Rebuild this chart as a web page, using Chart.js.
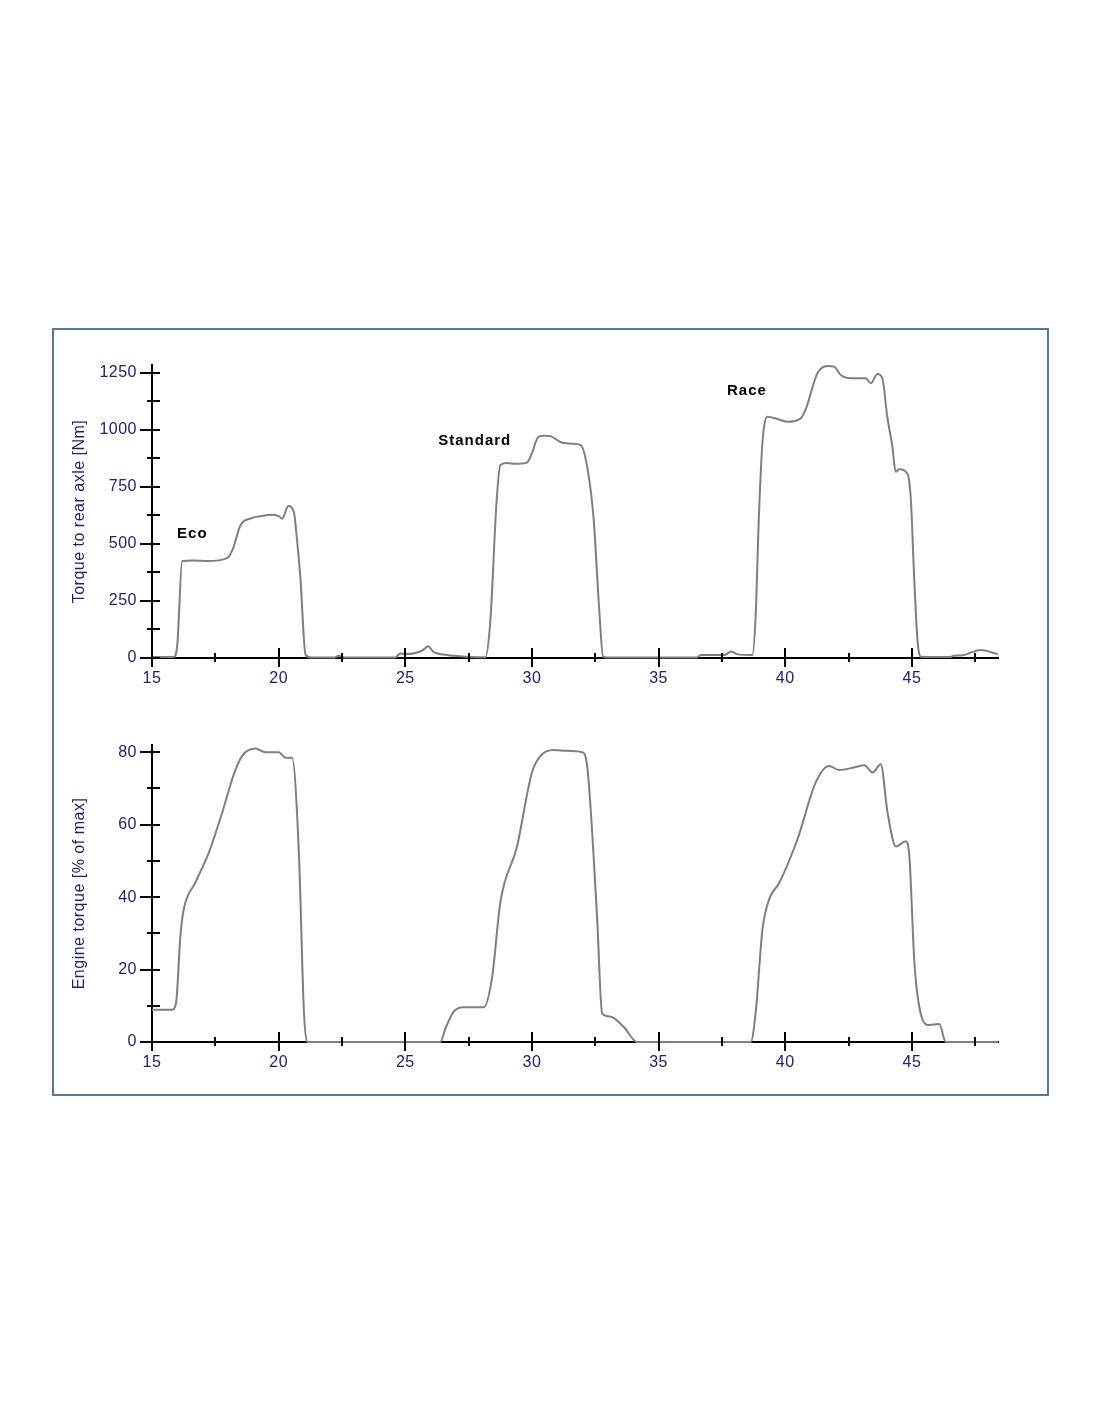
<!DOCTYPE html>
<html>
<head>
<meta charset="utf-8">
<script src="https://cdn.jsdelivr.net/npm/chart.js@4.4.1/dist/chart.umd.min.js"></script>
<style>
  body { margin: 0; background: #fff; }
  #frame { position: absolute; left: 52px; top: 328px; width: 993px; height: 764px; border: 2px solid #56789a; }
  canvas { position: absolute; }
  #top { left: 52px; top: 340px; }
  #bottom { left: 52px; top: 720px; }
</style>
</head>
<body>
<div id="frame"></div>
<canvas id="top" width="995" height="358" style="width:995px;height:358px"></canvas>
<canvas id="bottom" width="995" height="362" style="width:995px;height:362px"></canvas>
<script>
// time axis, seconds
var timeMin = 15, timeMax = 48.4;

// Torque to rear axle [Nm]
var axleTime = [15, 15.86, 16.0, 16.19, 16.6, 17.2, 17.96, 18.2, 18.48, 18.95, 19.3, 19.66, 20.0, 20.14, 20.38, 20.6, 20.73, 20.86, 21.06, 21.3,
  22.2, 22.38, 22.6, 24.6, 24.8, 25.0, 25.4, 25.7, 25.9, 26.1, 26.65, 27.4, 28.16, 28.36, 28.6, 28.75, 29.0, 29.4, 29.8, 30.0, 30.26, 30.5, 30.73,
  31.2, 31.6, 31.92, 32.18, 32.44, 32.64, 32.81, 33.0, 36.5, 36.66, 37.58, 37.87, 38.1, 38.7, 38.83, 38.96, 39.1, 39.3, 39.7, 40.08, 40.61, 40.8,
  41.27, 41.66, 41.93, 42.19, 42.59, 43.18, 43.38, 43.64, 43.83, 44.03, 44.23, 44.36, 44.5, 44.83, 44.96, 45.1, 45.23, 45.36, 46.5, 46.66, 47.0, 47.45, 47.7, 48.4];
var axleTorque = [4, 4, 60, 425, 428, 425, 438, 480, 579, 614, 622, 628, 622, 611, 667, 640, 513, 350, 15, 2,
  2, 10, 2, 2, 20, 17, 22, 35, 52, 28, 13, 6, 3, 167, 680, 846, 855, 852, 857, 899, 971, 975, 973,
  944, 940, 934, 839, 605, 241, 6, 2, 2, 13, 13, 28, 17, 13, 181, 620, 943, 1058, 1048, 1036, 1051, 1088,
  1249, 1281, 1278, 1241, 1227, 1227, 1205, 1246, 1228, 1058, 927, 817, 828, 807, 693, 329, 66, 6, 4, 10, 12, 28, 35, 17];

// Engine torque [% of max]
var engineTime = [15, 15.79, 15.95, 16.12, 16.25, 16.71, 17.24, 17.77, 18.23, 18.56, 19.08, 19.48, 20.0, 20.27, 20.53, 20.8, 21.0, 21.13,
  26.38, 26.6, 26.91, 27.3, 28.1, 28.43, 28.75, 29.41, 30.0, 30.34, 30.86, 31.39, 31.98, 32.18, 32.57, 32.77, 33.1, 33.62, 34.15,
  38.64, 38.83, 39.1, 39.36, 39.76, 40.48, 41.2, 41.73, 42.13, 42.72, 43.12, 43.45, 43.77, 44.04, 44.37, 44.76, 44.9, 45.1, 45.29, 45.62, 46.08, 46.34, 48.4];
var engineTorque = [8.9, 8.9, 10.8, 29.2, 36.5, 44, 52.2, 63.3, 73.9, 79, 81, 80, 80, 78.5, 78.5, 52, 8, 0,
  0, 4, 8.4, 9.6, 9.6, 18, 38.4, 54, 74.4, 79, 80.6, 80.4, 80, 76.2, 34.7, 7.9, 7, 4.2, 0,
  0, 7.9, 31, 39.3, 43.9, 55.9, 71.6, 76.2, 75.1, 75.8, 76.4, 74.4, 76.7, 63.3, 54, 55.4, 51.3, 21.8, 9.8, 4.7, 5, 0, 0];

// y tick layout
var axleMax = 1285, axleStep = 125, axleLabelStep = 250;
var engineMax = 82, engineStep = 10, engineLabelStep = 20;

// mode labels on the top panel (data coordinates of the text's left/middle)
var modeNames = ["Eco", "Standard", "Race"];
var modeX = [15.99, 26.3, 37.7];
var modeY = [544, 952, 1171];

var navy = "#22226a";
var lineGrey = "#7f7f7f";
var labelFont = "'Liberation Sans', Arial, sans-serif";

function points(xs, ys) {
  return xs.map(function (x, i) { return {x: x, y: ys[i]}; });
}

// tick marks that cross the axis, long on labelled ticks
var crossTicks = {
  id: "crossTicks",
  beforeDraw: function (chart) {
    chart.ctx.letterSpacing = "0.5px";
  },
  afterDraw: function (chart, args, opts) {
    var ctx = chart.ctx, a = chart.chartArea;
    var xs = chart.scales.x, ys = chart.scales.y;
    ctx.save();
    ctx.strokeStyle = "#000";
    ctx.lineWidth = 2;
    ctx.beginPath();
    for (var t = timeMin; t <= timeMax + 0.001; t += 2.5) {
      var px = Math.round(xs.getPixelForValue(t));
      var major = Math.abs(t % 5) < 0.001;
      ctx.moveTo(px, a.bottom - (major ? 10 : 5));
      ctx.lineTo(px, a.bottom + (major ? 9 : 4));
    }
    for (var v = 0; v <= opts.max + 0.001; v += opts.step) {
      var py = Math.round(ys.getPixelForValue(v));
      var big = Math.abs(v % opts.labelStep) < 0.001;
      ctx.moveTo(a.left - (big ? 12 : 5), py);
      ctx.lineTo(a.left + 8, py);
    }
    ctx.stroke();
    ctx.restore();
  }
};

var modeText = {
  id: "modeText",
  afterDraw: function (chart) {
    if (chart.canvas.id !== "top") return;
    var ctx = chart.ctx;
    ctx.save();
    ctx.letterSpacing = "1px";
    ctx.fillStyle = "#000";
    ctx.font = "bold 15px " + labelFont;
    ctx.textBaseline = "middle";
    ctx.textAlign = "left";
    modeNames.forEach(function (name, i) {
      ctx.fillText(name, chart.scales.x.getPixelForValue(modeX[i]), chart.scales.y.getPixelForValue(modeY[i]));
    });
    ctx.restore();
  }
};

function makeChart(id, xsArr, ysArr, yMax, step, labelStep, title, padTop) {
  return new Chart(document.getElementById(id), {
    type: "line",
    data: {
      datasets: [{
        data: points(xsArr, ysArr),
        borderColor: lineGrey,
        borderWidth: 2,
        pointRadius: 0,
        cubicInterpolationMode: "monotone",
        clip: false
      }]
    },
    options: {
      responsive: false,
      animation: false,
      events: [],
      layout: { padding: { top: padTop, right: 49, left: 0, bottom: 0 } },
      plugins: {
        legend: { display: false },
        tooltip: { enabled: false },
        crossTicks: { max: yMax, step: step, labelStep: labelStep }
      },
      scales: {
        x: {
          type: "linear",
          min: timeMin,
          max: timeMax,
          afterFit: function (s) { s.height = 40; },
          afterBuildTicks: function (s) {
            var t = [];
            for (var v = 15; v <= 45; v += 5) t.push({value: v});
            s.ticks = t;
          },
          grid: { display: true, drawOnChartArea: false, drawTicks: false },
          border: { display: true, color: "#000", width: 2 },
          ticks: {
            color: navy,
            padding: 11,
            maxRotation: 0,
            autoSkip: false,
            callback: function (v) { return String(v); },
            font: { family: labelFont, size: 16 }
          }
        },
        y: {
          min: 0,
          max: yMax,
          afterFit: function (s) { s.width = 100; },
          afterBuildTicks: function (s) {
            var t = [];
            for (var v = 0; v <= yMax; v += labelStep) t.push({value: v});
            s.ticks = t;
          },
          grid: { display: true, drawOnChartArea: false, drawTicks: false },
          border: { display: true, color: "#000", width: 2 },
          ticks: {
            color: navy,
            padding: 15,
            callback: function (v) { return String(v); },
            font: { family: labelFont, size: 16 }
          },
          title: {
            display: true,
            text: title,
            color: navy,
            padding: { top: 18, bottom: 0 },
            font: { family: labelFont, size: 16 }
          }
        }
      }
    },
    plugins: [crossTicks, modeText]
  });
}

makeChart("top", axleTime, axleTorque, axleMax, axleStep, axleLabelStep, "Torque to rear axle [Nm]", 25);
makeChart("bottom", engineTime, engineTorque, engineMax, engineStep, engineLabelStep, "Engine torque [% of max]", 25);
</script>
</body>
</html>
